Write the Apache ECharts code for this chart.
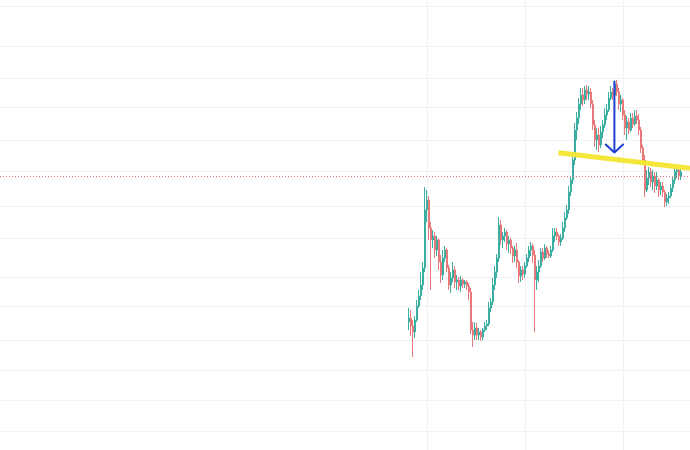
<!DOCTYPE html>
<html>
<head>
<meta charset="utf-8">
<script src="https://cdn.jsdelivr.net/npm/echarts@6/dist/echarts.min.js"></script>
<style>html,body{margin:0;padding:0;background:#fff;}#chart{width:690px;height:450px;}</style>
</head>
<body>
<div id="chart"></div>
<script>
// ---- data ----
var TOTAL_SLOTS = 345;      // bar slots across the visible time range
var START_INDEX = 204;      // first slot that holds a candle
var opens = [
  12.8,13.2,12.4,11.8,13.0,14.4,15.4,16.5,18.2,24.0,
  25.0,22.2,21.0,21.4,20.0,21.0,18.8,17.5,19.2,20.0,
  18.2,16.5,17.2,18.0,16.8,17.0,16.4,17.0,16.6,16.8,
  16.4,15.8,12.0,11.5,12.2,11.5,11.8,11.3,12.0,12.4,
  12.6,14.2,14.8,16.5,17.8,19.2,22.5,21.0,21.4,21.8,
  20.6,21.0,20.2,19.4,20.0,18.8,17.4,18.0,17.6,18.4,
  19.2,20.0,20.4,19.5,17.0,17.8,18.4,19.8,19.2,20.2,
  19.6,19.4,20.0,21.4,21.8,21.4,20.8,21.2,22.2,23.2,
  24.0,25.8,27.0,29.0,32.0,33.2,34.6,35.5,35.0,36.0,
  35.6,35.8,34.6,32.5,31.0,31.5,30.5,31.8,32.5,33.5,
  34.0,35.2,35.8,35.5,36.6,35.8,34.6,35.0,33.5,32.2,
  32.8,32.0,33.2,32.6,33.4,33.0,32.0,30.2,29.0,26.0,
  27.2,27.8,26.8,27.4,26.4,27.0,26.0,26.4,25.8,24.8,
  25.2,25.4,26.2,27.0,27.8,28.0,27.4
];
var closes = [
  13.2,12.4,11.8,13.0,14.4,15.4,16.5,18.2,24.0,25.0,
  22.2,21.0,21.4,20.0,21.0,18.8,17.5,19.2,20.0,18.2,
  16.5,17.2,18.0,16.8,17.0,16.4,17.0,16.6,16.8,16.4,
  15.8,12.0,11.5,12.2,11.5,11.8,11.3,12.0,12.4,12.6,
  14.2,14.8,16.5,17.8,19.2,22.5,21.0,21.4,21.8,20.6,
  21.0,20.2,19.4,20.0,18.8,17.4,18.0,17.6,18.4,19.2,
  20.0,20.4,19.5,17.0,17.8,18.4,19.8,19.2,20.2,19.6,
  19.4,20.0,21.4,21.8,21.4,20.8,21.2,22.2,23.2,24.0,
  25.8,27.0,29.0,32.0,33.2,34.6,35.5,35.0,36.0,35.6,
  35.8,34.6,32.5,31.0,31.5,30.5,31.8,32.5,33.5,34.0,
  35.2,35.8,35.5,36.6,35.8,34.6,35.0,33.5,32.2,32.8,
  32.0,33.2,32.6,33.4,33.0,32.0,30.2,29.0,26.0,27.2,
  27.8,26.8,27.4,26.4,27.0,26.0,26.4,25.8,24.8,25.2,
  25.4,26.2,27.0,27.8,28.0,27.4,27.8
];
var lows = [
  12.0,11.4,9.3,11.2,12.8,14.2,15.0,16.0,17.8,22.8,
  21.0,16.0,20.2,19.2,19.4,18.0,16.7,17.0,18.8,17.8,
  16.0,15.7,16.8,16.2,16.0,16.0,15.8,16.2,16.2,16.0,
  15.0,11.6,10.3,11.0,11.0,11.0,10.9,11.0,11.8,12.0,
  12.4,13.8,14.5,16.0,17.2,18.8,20.5,20.2,20.8,20.0,
  19.7,19.6,18.7,18.8,18.2,16.7,16.8,17.0,17.2,18.2,
  18.8,19.4,18.7,11.8,16.0,16.8,18.2,18.8,19.0,19.2,
  19.2,19.2,19.8,20.8,21.0,20.4,20.4,21.0,21.8,23.0,
  23.6,25.4,26.6,28.5,31.0,32.6,34.0,34.4,34.6,35.0,
  35.0,34.2,32.0,30.3,30.0,29.8,30.2,31.2,32.2,33.0,
  33.8,35.0,35.0,35.2,35.4,34.0,33.8,33.0,31.5,31.0,
  31.6,31.8,32.2,32.4,32.6,31.5,29.7,28.5,25.3,25.8,
  26.5,26.3,26.0,25.7,26.0,25.3,25.5,25.3,24.3,24.4,
  24.6,25.2,25.8,26.6,27.2,27.0,27.0
];
var highs = [
  14.2,14.0,13.0,13.4,15.0,16.0,17.8,18.8,26.3,26.0,
  25.4,22.8,22.0,21.8,21.4,21.2,19.5,20.0,20.4,20.2,
  18.5,17.8,18.8,18.4,17.5,17.3,17.4,17.2,17.0,17.0,
  16.7,16.2,12.8,12.8,12.7,12.2,12.0,12.2,12.8,13.0,
  14.8,15.2,17.2,18.4,19.6,23.3,23.0,21.8,22.2,22.0,
  21.4,21.2,20.4,20.4,20.7,19.0,18.4,18.4,18.8,19.6,
  20.4,20.8,20.6,20.0,18.4,19.0,20.2,20.2,20.6,20.4,
  20.0,20.4,22.2,22.2,22.2,21.6,21.6,22.8,23.8,24.5,
  26.4,27.4,29.8,32.7,33.8,35.2,36.2,36.2,36.4,36.5,
  36.4,36.2,35.0,33.0,32.2,32.2,32.4,33.0,34.2,34.6,
  35.8,36.4,36.2,37.0,37.0,36.2,35.5,35.2,34.0,33.4,
  33.2,33.7,33.7,34.0,34.0,33.6,32.3,30.5,29.5,28.0,
  28.3,28.2,28.0,27.8,27.8,27.2,26.8,26.8,26.0,25.6,
  25.8,26.6,27.4,28.3,28.4,28.2,28.2
];
// horizontal grid price levels and vertical time marks (slot positions)
var priceGridLevels = [44.4,40.33,37.2,34.3,30.97,27.83,24.4,21.13,17.23,14.33,11.0,7.93,5.0,1.9];
var timeGridSlots = [213.5,262.5,311.5];
var lastPriceLine = 27.33;
// drawings (slot position, price)
var trendLine = [[279.2, 29.73], [345, 28.17]];
var arrowShaft = [[307.2, 36.9], [307.2, 29.75]];
var arrowHead = [[302.6, 30.6], [307.2, 29.75], [311.8, 30.6]];

// ---- build ----
var categories = [];
for (var i = 0; i < TOTAL_SLOTS; i++) categories.push(String(i));
var candleData = [];
for (var j = 0; j < START_INDEX; j++) candleData.push('-');
for (var k = 0; k < opens.length; k++) candleData.push([opens[k], closes[k], lows[k], highs[k]]);

var gridColor = '#eff1f4';
var upColor = '#3aaea0';
var downColor = '#e8787a';
var chart = echarts.init(document.getElementById('chart'), null, {renderer: 'canvas'});
chart.setOption({
  animation: false,
  backgroundColor: '#ffffff',
  grid: {left: 0, right: 0, top: 0, bottom: 0, containLabel: false},
  xAxis: [{
    type: 'category', data: categories, boundaryGap: true,
    axisLine: {show: false}, axisTick: {show: false}, axisLabel: {show: false}, splitLine: {show: false}
  }, {
    type: 'value', min: 0, max: TOTAL_SLOTS,
    axisLine: {show: false}, axisLabel: {show: false},
    axisTick: {show: false, customValues: timeGridSlots},
    splitLine: {show: true, lineStyle: {color: gridColor, width: 1}}
  }],
  yAxis: [{
    type: 'value', min: 0, max: 45, scale: false,
    axisLine: {show: false}, axisLabel: {show: false},
    axisTick: {show: false, customValues: priceGridLevels},
    splitLine: {show: true, lineStyle: {color: gridColor, width: 1}}
  }],
  series: [{
    type: 'candlestick',
    xAxisIndex: 0, yAxisIndex: 0,
    data: candleData,
    barWidth: '70%',
    itemStyle: {color: upColor, color0: downColor, borderColor: upColor, borderColor0: downColor, borderWidth: 1},
    markLine: {
      silent: true, symbol: 'none', label: {show: false},
      lineStyle: {type: [1, 2], color: '#e57373', width: 1},
      data: [{yAxis: lastPriceLine}]
    }
  }, {
    type: 'line', xAxisIndex: 1, yAxisIndex: 0, silent: true,
    data: trendLine, symbol: 'none',
    lineStyle: {color: '#f5e63a', width: 5}
  }, {
    type: 'line', xAxisIndex: 1, yAxisIndex: 0, silent: true,
    data: arrowShaft, symbol: 'none',
    lineStyle: {color: '#1f3fd0', width: 2}
  }, {
    type: 'line', xAxisIndex: 1, yAxisIndex: 0, silent: true,
    data: arrowHead, symbol: 'none',
    lineStyle: {color: '#1f3fd0', width: 2}
  }]
});
</script>
</body>
</html>
